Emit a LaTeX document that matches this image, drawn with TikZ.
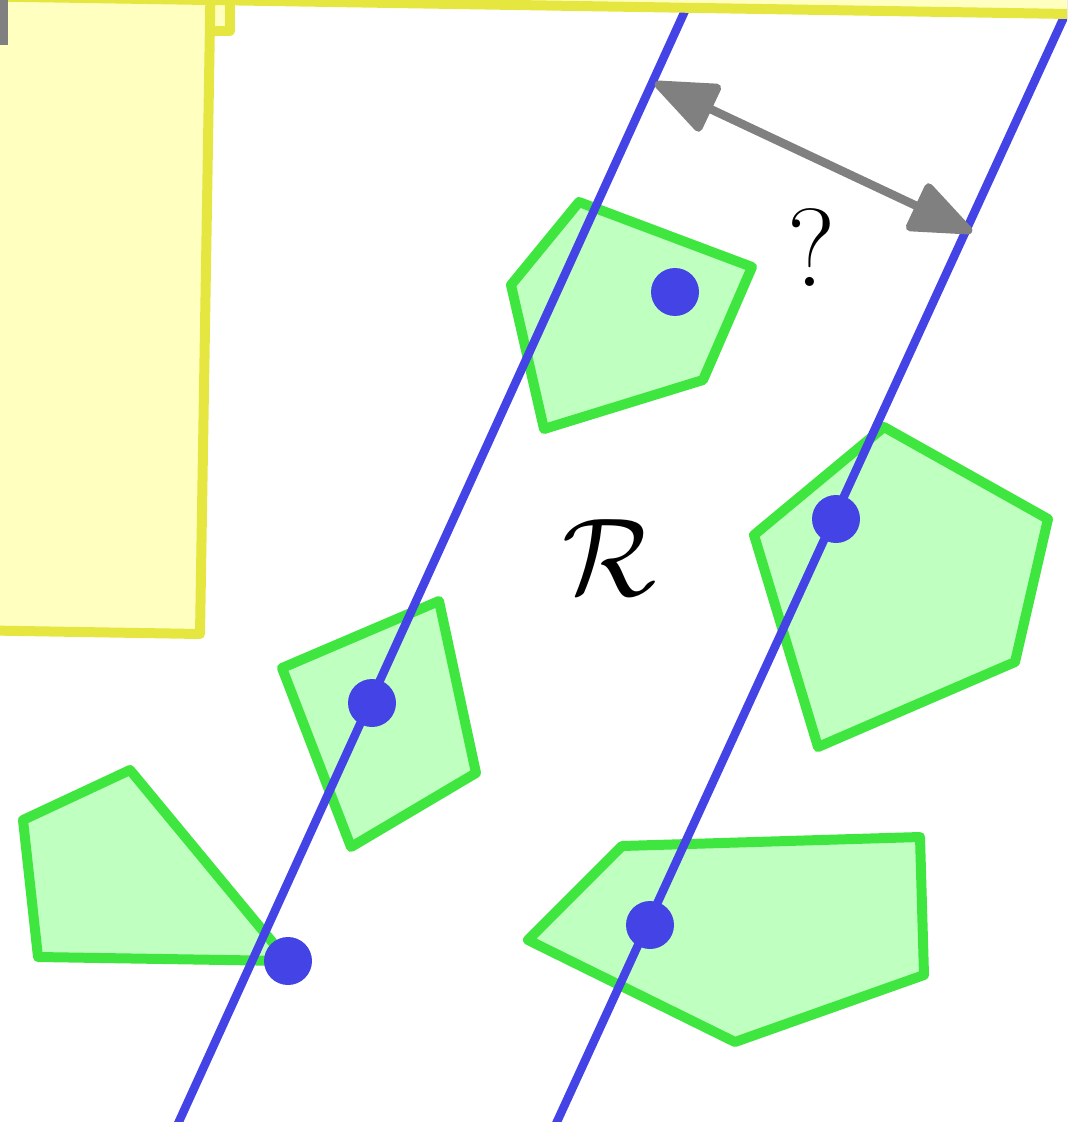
\documentclass[tikz,border=0pt]{standalone}
\usetikzlibrary{arrows.meta}
\definecolor{rgyellow}{HTML}{E6E640}
\definecolor{rglight}{HTML}{FFFFC0}
\definecolor{obgreen}{HTML}{40E640}
\definecolor{oblight}{HTML}{BFFFBF}
\definecolor{stblue}{HTML}{4343E6}
\definecolor{gpgray}{HTML}{808080}
\tikzset{
  region/.style={fill=rglight, draw=rgyellow, line width=1mm, line join=round},
  obstacle/.style={fill=oblight, draw=obgreen, line width=1mm, line join=round},
  stripline/.style={draw=stblue, line width=0.85mm},
  hit/.style={circle, fill=stblue, inner sep=0pt, minimum size=4.8mm},
  gaparrow/.style={{Triangle[length=7mm,width=5.4mm,round]}-{Triangle[length=7mm,width=5.4mm,round]},
                   line width=0.85mm, draw=gpgray},
  bigsym/.style={font=\Huge, scale=1.27, inner sep=0pt},
}
\begin{document}
\begin{tikzpicture}[x=0.1mm, y=-0.1mm]
  \useasboundingbox (0,0) rectangle (1067,1122);
  \clip (0,0) rectangle (1067,1122);
  % obstacles
  \draw[obstacle] (579,202) -- (752,267) -- (703,380) -- (544,429) -- (511,285) -- cycle;
  \draw[obstacle] (884,427) -- (1048,519) -- (1015,662) -- (818,747) -- (754,535) -- cycle;
  \draw[obstacle] (282,668) -- (439,601) -- (476,773) -- (351,847) -- cycle;
  \draw[obstacle] (23,820) -- (130,770) -- (288,961) -- (38,957) -- cycle;
  \draw[obstacle] (622,846) -- (920,837) -- (924,975) -- (735,1042) -- (528,940) -- cycle;
  % strip
  \coordinate (s1a) at (699,-20);  \coordinate (s1b) at (166,1150);
  \coordinate (s2a) at (1081,-20); \coordinate (s2b) at (544,1150);
  \draw[stripline] (s1a) -- (s1b);
  \draw[stripline] (s2a) -- (s2b);
  \foreach \n/\x/\y in {h1/675/292, h2/836/519, h3/372/703, h4/288/961, h5/650/925}{
    \node[hit] (\n) at (\x,\y) {};
  }
  % regions
  \draw[region] (-40,-40) rectangle (230,31);
  \draw[region] (-40,-40) -- (211,-40) -- (200,634) -- (-40,630) -- cycle;
  \draw[region] (-100,-5) -- (1100,14.5) -- (1100,-60) -- (-100,-60) -- cycle;
  \coordinate (e1) at (3.5,-20); \coordinate (e2) at (3.5,45);
  \draw[gpgray, line width=0.8mm] (e1) -- (e2);
  % width
  \coordinate (g1) at (655,83);
  \coordinate (g2) at (972,232);
  \draw[gaparrow] (g1) -- (g2);
  \node[bigsym] (q) at (812,248) {?};
  \node[bigsym] (R) at (610,558) {$\mathcal{R}$};
\end{tikzpicture}
\end{document}
